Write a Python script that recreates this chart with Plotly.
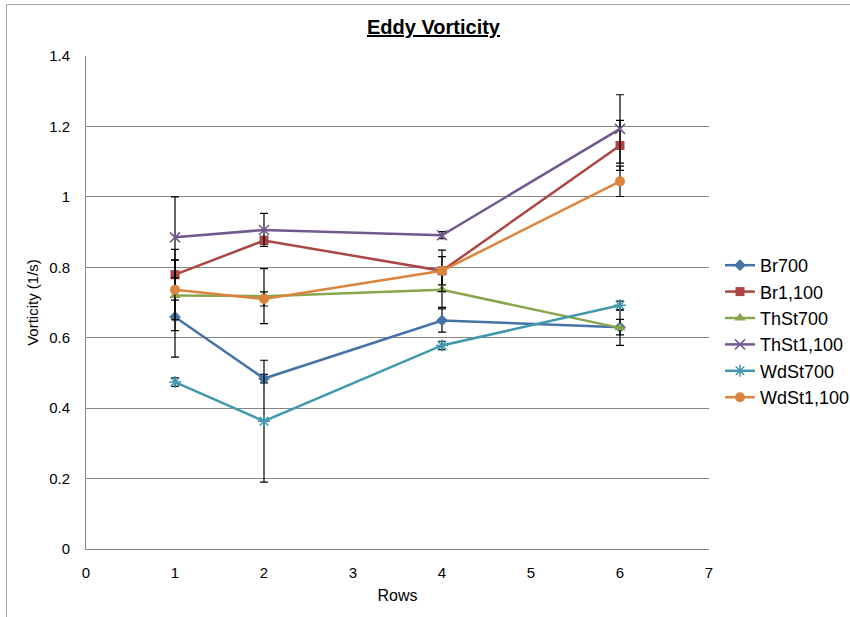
import plotly.graph_objects as go

# Measurement rows (x axis)
rows = [1, 2, 4, 6]

# Mean eddy vorticity per configuration (1/s)
br700 = [0.659, 0.484, 0.649, 0.630]
br1100 = [0.779, 0.876, 0.790, 1.146]
thst700 = [0.720, 0.718, 0.736, 0.628]
thst1100 = [0.885, 0.906, 0.891, 1.193]
wdst700 = [0.474, 0.363, 0.578, 0.692]
wdst1100 = [0.736, 0.710, 0.790, 1.044]

# Symmetric error (+/-) for each point
br700_err = [0.114, 0.012, 0.033, 0.022]
br1100_err = [0.072, 0.012, 0.040, 0.071]
thst700_err = [0.100, 0.078, 0.050, 0.050]
thst1100_err = [0.115, 0.047, 0.010, 0.097]
wdst700_err = [0.012, 0.173, 0.012, 0.012]
wdst1100_err = [0.085, 0.020, 0.059, 0.043]

series = [
    ("Br700", br700, br700_err, "#4572A7", "diamond", 9),
    ("Br1,100", br1100, br1100_err, "#AA4643", "square", 9),
    ("ThSt700", thst700, thst700_err, "#89A54E", "triangle-up", 10),
    ("ThSt1,100", thst1100, thst1100_err, "#71588F", "x-thin-open", 10),
    ("WdSt700", wdst700, wdst700_err, "#4198AF", "asterisk-open", 10),
    ("WdSt1,100", wdst1100, wdst1100_err, "#DB843D", "circle", 10),
]

FONT = "Liberation Sans, Arial, sans-serif"

fig = go.Figure()
for i, (name, vals, errs, color, symbol, size) in enumerate(series):
    open_sym = symbol.endswith("-open")
    fig.add_trace(go.Scatter(
        x=rows, y=vals, name=name, mode="lines+markers",
        legendgroup=f"g{i}",
        line=dict(color=color, width=2.5),
        marker=dict(symbol=symbol, size=size, color=color,
                    line=dict(color=color, width=1.5 if open_sym else 0)),
        error_y=dict(type="data", array=errs, visible=True,
                     color="black", thickness=1.2, width=4),
    ))

W, H = 850, 617
L, R, T, B = 86, 141, 56, 68
pw, ph = W - L - R, H - T - B

def px_x(p):
    return (p - L) / pw

def px_y(p):
    return (H - B - p) / ph

fig.update_layout(
    width=W, height=H,
    margin=dict(l=L, r=R, t=T, b=B, autoexpand=False),
    paper_bgcolor="white", plot_bgcolor="white",
    font=dict(family=FONT, size=15, color="black"),
    showlegend=True,
    legend=dict(x=px_x(720), y=px_y(247), xanchor="left", yanchor="top",
                font=dict(family=FONT, size=18, color="black"),
                traceorder="grouped", tracegroupgap=0,
                bgcolor="rgba(0,0,0,0)", itemwidth=30),
    annotations=[dict(
        text="<b><u>Eddy Vorticity</u></b>", x=px_x(434), y=px_y(27),
        xref="paper", yref="paper", showarrow=False,
        xanchor="center", yanchor="middle",
        font=dict(family=FONT, size=20, color="black"),
    )],
    shapes=[
        dict(type="line", xref="paper", yref="paper",
             x0=px_x(6.5), x1=px_x(W + 5), y0=px_y(4.5), y1=px_y(4.5),
             line=dict(color="#A6A6A6", width=1)),
        dict(type="line", xref="paper", yref="paper",
             x0=px_x(6.5), x1=px_x(6.5), y0=px_y(4.5), y1=px_y(H + 5),
             line=dict(color="#A6A6A6", width=1)),
    ],
)

fig.update_xaxes(
    range=[0, 7], dtick=1, tick0=0, showgrid=False, zeroline=False,
    showline=True, linecolor="#868686", linewidth=1,
    ticks="", ticklabelstandoff=10, tickfont=dict(family=FONT, size=15),
    title=dict(text="Rows", font=dict(family=FONT, size=16), standoff=9),
)
fig.update_yaxes(
    range=[0, 1.4], dtick=0.2, tick0=0, showgrid=True, gridcolor="#868686",
    gridwidth=1, zeroline=False, showline=True, linecolor="#868686",
    linewidth=1, ticks="", ticklabelstandoff=12,
    tickfont=dict(family=FONT, size=15), tickformat="~g",
    title=dict(text="Vorticity (1/s)", font=dict(family=FONT, size=15),
               standoff=6),
)

fig.write_html("out.html")
